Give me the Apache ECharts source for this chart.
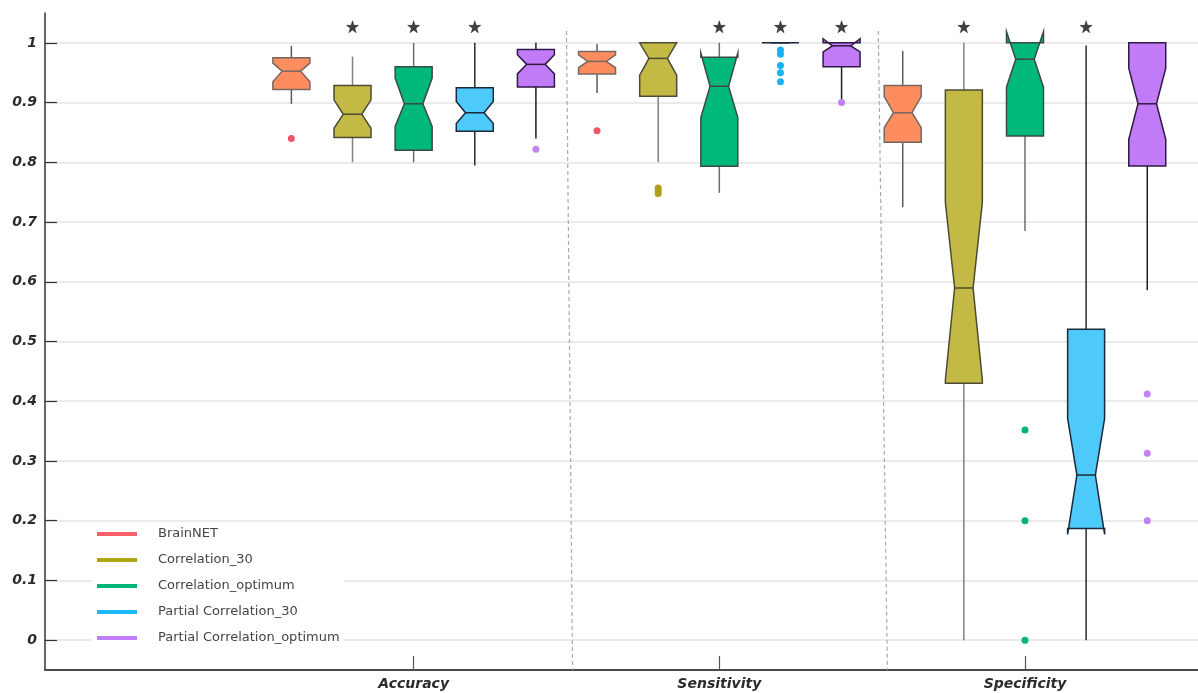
<!DOCTYPE html>
<html>
<head>
<meta charset="utf-8">
<script src="https://cdn.jsdelivr.net/npm/echarts@6/dist/echarts.min.js"></script>
<style>html,body{margin:0;padding:0;background:#fff}#chart{width:1198px;height:693px}</style>
</head>
<body>
<div id="chart"></div>
<script>
// ---------- data ----------
const categories = ['Accuracy', 'Sensitivity', 'Specificity'];
const methods = ['BrainNET', 'Correlation_30', 'Correlation_optimum', 'Partial Correlation_30', 'Partial Correlation_optimum'];
const yTicks = [0, 0.1, 0.2, 0.3, 0.4, 0.5, 0.6, 0.7, 0.8, 0.9, 1];
const yTickLabels = ['0', '0.1', '0.2', '0.3', '0.4', '0.5', '0.6', '0.7', '0.8', '0.9', '1'];

// per category: [min, q1, notchLow, median, notchHigh, q3, max]
const statsBrainNET = [
  [0.898, 0.922, 0.935, 0.9526, 0.966, 0.975, 0.995],
  [0.916, 0.948, 0.9587, 0.969, 0.980, 0.9855, 0.998],
  [0.7247, 0.8336, 0.858, 0.883, 0.910, 0.9285, 0.9866]
];
const statsCorr30 = [
  [0.800, 0.8414, 0.857, 0.8805, 0.9045, 0.9285, 0.977],
  [0.800, 0.9106, 0.946, 0.974, 1.0, 1.0, 1.0],
  [0.0, 0.430, 0.4355, 0.5896, 0.733, 0.921, 1.0]
];
const statsCorrOpt = [
  [0.800, 0.820, 0.860, 0.898, 0.941, 0.960, 1.0],
  [0.749, 0.7934, 0.875, 0.9274, 0.983, 0.976, 1.0],
  [0.685, 0.844, 0.9257, 0.9727, 1.019, 1.0, 1.0]
];
const statsPCorr30 = [
  [0.7945, 0.852, 0.865, 0.883, 0.902, 0.925, 1.0],
  [1.0, 1.0, 1.0, 1.0, 1.0, 1.0, 1.0],
  [0.0, 0.187, 0.177, 0.2764, 0.3713, 0.5204, 0.9955]
];
const statsPCorrOpt = [
  [0.84, 0.926, 0.948, 0.964, 0.980, 0.989, 1.0],
  [0.905, 0.960, 0.985, 0.995, 1.007, 1.0, 1.0],
  [0.586, 0.794, 0.8386, 0.898, 0.9576, 1.0, 1.0]
];

// outliers per category
const outBrainNET = [[0.84], [0.853], []];
const outCorr30 = [[], [0.757, 0.752, 0.748], []];
const outCorrOpt = [[], [], [0.352, 0.200, 0.0]];
const outPCorr30 = [[], [0.988, 0.981, 0.962, 0.950, 0.935], []];
const outPCorrOpt = [[0.822], [0.900], [0.412, 0.3127, 0.1998]];

// significance stars (1 = star) per category, per method
const sigAccuracy = [0, 1, 1, 1, 0];
const sigSensitivity = [0, 0, 1, 1, 1];
const sigSpecificity = [0, 1, 0, 1, 0];

// ---------- styling ----------
const allStats = [statsBrainNET, statsCorr30, statsCorrOpt, statsPCorr30, statsPCorrOpt];
const allOut = [outBrainNET, outCorr30, outCorrOpt, outPCorr30, outPCorrOpt];
const allSig = [sigAccuracy, sigSensitivity, sigSpecificity];

const fillColors = ['#FD8C5E', '#C3BA45', '#00B87A', '#4DC9FA', '#C27BF6'];
const edgeColors = ['#76675f', '#4d4b35', '#3b4a42', '#1b2a3a', '#2e1a45'];
const whiskColors = ['#5a5a5a', '#808080', '#6e6e6e', '#2a2a2a', '#1e1e1e'];
const outColors = ['#F0566A', '#AFA01A', '#00B474', '#1AB2F2', '#C182F4'];
const legendColors = ['#F8606A', '#B4A414', '#00B574', '#1FB8F8', '#C07EF8'];

const OFFSET = 0.2;      // spacing of boxes inside a group (x units)
const BOX_W = 0.121;     // box width (x units)
const STAR_Y = 1.027;
const SEP_TOP = 1.02, SEP_BOTTOM = -0.05;

const font = { fontFamily: 'DejaVu Sans', fontWeight: 'bold', fontStyle: 'italic', fontSize: 14, color: '#2b2b2b' };

function xPos(ci, mi) { return (ci + 1) + (mi - 2) * OFFSET; }

function makeRender(mi) {
  return function (params, api) {
    const x = api.value(0);
    const mn = api.value(1), q1 = api.value(2), nl = api.value(3), md = api.value(4),
      nh = api.value(5), q3 = api.value(6), mx = api.value(7);
    const cx = api.coord([x, md])[0];
    const hw = api.size([BOX_W, 0])[0] / 2;
    const y = v => api.coord([x, v])[1];
    const L = cx - hw, R = cx + hw, nL = cx - hw / 2, nR = cx + hw / 2;
    const pts = [[L, y(q1)], [L, y(nl)], [nL, y(md)], [L, y(nh)], [L, y(q3)],
      [R, y(q3)], [R, y(nh)], [nR, y(md)], [R, y(nl)], [R, y(q1)]];
    return {
      type: 'group', children: [
        { type: 'line', shape: { x1: cx, y1: y(q3), x2: cx, y2: y(mx) }, style: { stroke: whiskColors[mi], lineWidth: 1.5 } },
        { type: 'line', shape: { x1: cx, y1: y(mn), x2: cx, y2: y(q1) }, style: { stroke: whiskColors[mi], lineWidth: 1.5 } },
        { type: 'polygon', shape: { points: pts }, style: { fill: fillColors[mi], stroke: edgeColors[mi], lineWidth: 1.5 } },
        { type: 'line', shape: { x1: nL, y1: y(md), x2: nR, y2: y(md) }, style: { stroke: edgeColors[mi], lineWidth: 1.5 } }
      ]
    };
  };
}

const series = [];
methods.forEach((m, mi) => {
  series.push({
    name: m, type: 'custom', clip: false,
    renderItem: makeRender(mi),
    encode: { x: 0, y: [1, 2, 3, 4, 5, 6, 7] },
    itemStyle: { color: legendColors[mi] },
    data: allStats[mi].map((s, ci) => [xPos(ci, mi)].concat(s)),
    z: 3
  });
});
methods.forEach((m, mi) => {
  const pts = [];
  allOut[mi].forEach((arr, ci) => arr.forEach(v => pts.push([xPos(ci, mi), v])));
  series.push({
    name: m, type: 'scatter', symbolSize: 7, clip: false,
    itemStyle: { color: outColors[mi], opacity: 1 },
    data: pts, z: 4
  });
});
const starPts = [];
allSig.forEach((arr, ci) => arr.forEach((s, mi) => { if (s) starPts.push([xPos(ci, mi), STAR_Y]); }));
series.push({
  name: 'stars', type: 'scatter', clip: false,
  symbol: 'path://M50,0 L61,35 L98,35 L68,57 L79,91 L50,70 L21,91 L32,57 L2,35 L39,35 Z',
  symbolSize: [12, 12],
  itemStyle: { color: '#111', borderColor: '#000', borderWidth: 0.5 },
  data: starPts, z: 4,
  markLine: {
    silent: true, symbol: 'none', animation: false,
    lineStyle: { type: [4, 3], color: '#aaaaaa', width: 1.2 },
    label: { show: false },
    data: [
      [{ coord: [1.5, SEP_TOP] }, { coord: [1.52, SEP_BOTTOM] }],
      [{ coord: [2.52, SEP_TOP] }, { coord: [2.55, SEP_BOTTOM] }]
    ]
  }
});

const chart = echarts.init(document.getElementById('chart'), null, { renderer: 'canvas' });
chart.setOption({
  animation: false,
  backgroundColor: '#fff',
  grid: { left: 45, right: 0, top: 13, bottom: 23, containLabel: false },
  xAxis: {
    type: 'value', min: -0.206, max: 3.566,
    splitLine: { show: false },
    axisLine: { show: true, onZero: false, lineStyle: { color: '#4a4a4a', width: 2 } },
    axisTick: { show: true, inside: true, length: 14, customValues: [1, 2, 3], lineStyle: { color: '#555', width: 1.2 } },
    axisLabel: {
      customValues: [1, 2, 3], margin: 7, ...font,
      formatter: v => categories[Math.round(v) - 1]
    }
  },
  yAxis: {
    type: 'value', min: -0.05, max: 1.05,
    axisLine: { show: true, onZero: false, lineStyle: { color: '#333', width: 1.5 } },
    axisTick: { show: true, inside: true, length: 12, customValues: yTicks, lineStyle: { color: '#333', width: 1.2 } },
    axisLabel: {
      customValues: yTicks, margin: 8, ...font,
      formatter: v => yTickLabels[yTicks.findIndex(t => Math.abs(t - v) < 1e-6)]
    },
    splitLine: { show: true, lineStyle: { color: '#e4e4e4', width: 1.5 } }
  },
  legend: {
    orient: 'vertical', left: 92, top: 523,
    backgroundColor: '#fff',
    padding: [3, 4, 6, 5],
    itemWidth: 40, itemHeight: 4, itemGap: 10,
    icon: 'rect', selectedMode: false,
    textStyle: { fontFamily: 'DejaVu Sans', fontSize: 13, color: '#444', lineHeight: 16, padding: [0, 0, 0, 16] },
    data: methods.map((m, i) => ({ name: m, itemStyle: { color: legendColors[i] } }))
  },
  series: series
});
</script>
</body>
</html>
